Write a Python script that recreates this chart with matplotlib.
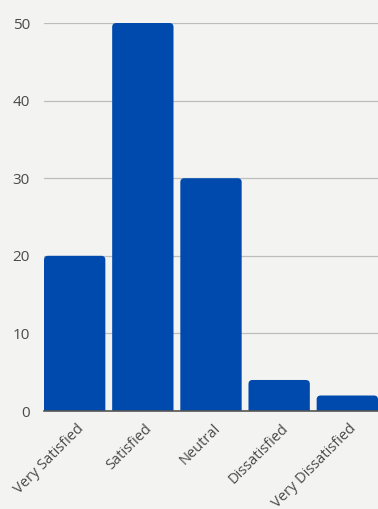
import matplotlib
matplotlib.use('Agg')
import matplotlib.pyplot as plt
import matplotlib.transforms as mtransforms
from matplotlib.patches import FancyBboxPatch

categories = ['Very Satisfied', 'Satisfied', 'Neutral', 'Dissatisfied', 'Very Dissatisfied']
responses = [20, 50, 30, 4, 2]
yticks = [0, 10, 20, 30, 40, 50]

plt.rcParams['font.family'] = ['Open Sans', 'DejaVu Sans']

bg = '#f3f3f1'
bar_color = '#004aad'

fig = plt.figure(figsize=(3.78, 5.09), dpi=100, facecolor=bg)
ax = fig.add_axes([0.1164, 0.1925, 0.8836, 0.7623])
ax.set_facecolor(bg)

x = list(range(len(categories)))
bars = ax.bar(x, responses, width=0.9, color='none', zorder=3)
# swap plain bars for ones with rounded tops
for b in bars:
    rp = FancyBboxPatch((b.get_x(), -2), b.get_width(), b.get_height() + 2,
                        boxstyle='round,pad=0,rounding_size=0.06',
                        mutation_aspect=8.6, facecolor=bar_color,
                        edgecolor='none', zorder=3)
    ax.add_patch(rp)

ax.set_xlim(-0.45, 4.45)
ax.set_ylim(0, 50)
ax.set_yticks(yticks)
ax.yaxis.grid(True, color='#bdbdbd', linewidth=0.9, zorder=0)
ax.set_axisbelow(True)

for s in ['top', 'right', 'left']:
    ax.spines[s].set_visible(False)
ax.spines['bottom'].set_color('#555555')
ax.spines['bottom'].set_linewidth(1.2)
ax.spines['bottom'].set_zorder(4)

ax.tick_params(axis='y', length=0, pad=10, labelsize=11, labelcolor='#4a4a4a')
ax.tick_params(axis='x', length=0, pad=11, labelsize=10.5, labelcolor='#4a4a4a')
ax.set_xticks(x)
ax.set_xticklabels(categories, rotation=45, ha='right', va='center',
                   rotation_mode='anchor')
shift = mtransforms.ScaledTranslation(0.07, 0, fig.dpi_scale_trans)
for lbl in ax.get_xticklabels():
    lbl.set_transform(lbl.get_transform() + shift)

fig.savefig('out.png', dpi=100, facecolor=bg)
